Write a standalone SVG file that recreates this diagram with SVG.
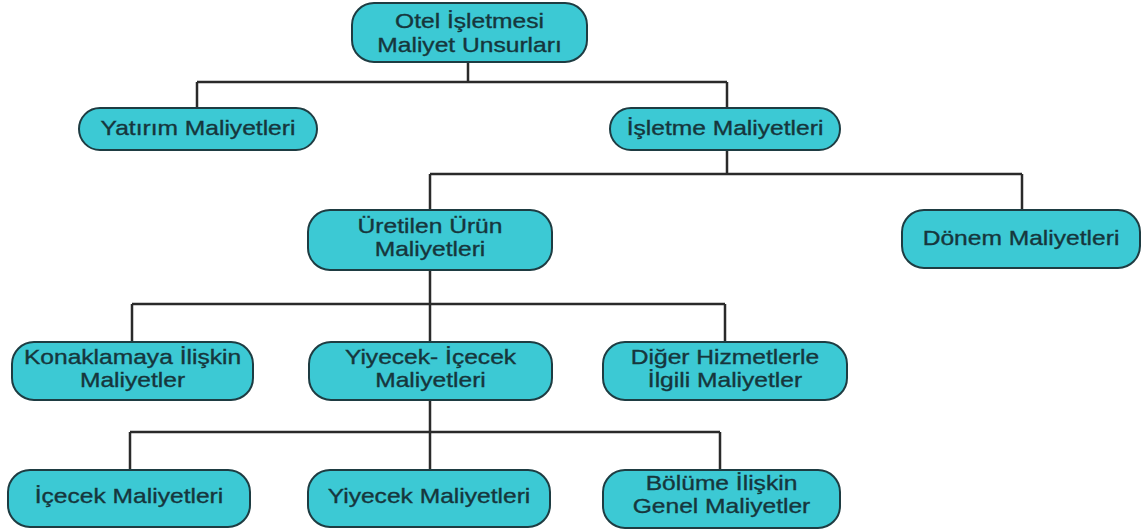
<svg xmlns="http://www.w3.org/2000/svg" width="1147" height="531" viewBox="0 0 1147 531">
  <style>
    .box { fill: #3cc9d4; stroke: #1e3c42; stroke-width: 2; }
    .lbl { font-family: "Liberation Sans", Arial, sans-serif; font-size: 20.5px; fill: #16363c; stroke: #16363c; stroke-width: 0.35; text-anchor: middle; }
    .wire { fill: none; stroke: #2a2a2a; stroke-width: 2.5; }
  </style>
  <rect width="1147" height="531" fill="#ffffff"/>

  <!-- connectors -->
  <g id="connectors" class="wire">
    <path d="M468 62 V82 M197 82 H727 M197 82 V108 M727 82 V108"/>
    <path d="M727 150 V174 M430 174 H1022 M430 174 V210 M1022 174 V210"/>
    <path d="M430 270 V304 M132 304 H725 M132 304 V342 M430 304 V342 M725 304 V342"/>
    <path d="M430 400 V432 M130 432 H720 M130 432 V470 M430 432 V470 M720 432 V470"/>
  </g>

  <!-- labels are set slightly wide: translate to the anchor, then stretch horizontally -->
  <g id="root">
    <rect class="box" x="352" y="3" width="235" height="59" rx="22"/>
    <text class="lbl" transform="translate(469.5 28) scale(1.2 1)">Otel İşletmesi</text>
    <text class="lbl" transform="translate(469.5 52) scale(1.2 1)">Maliyet Unsurları</text>
  </g>

  <g id="yatirim">
    <rect class="box" x="79" y="108" width="238" height="42" rx="21"/>
    <text class="lbl" transform="translate(198 135) scale(1.2 1)">Yatırım Maliyetleri</text>
  </g>

  <g id="isletme">
    <rect class="box" x="610" y="108" width="230" height="42" rx="21"/>
    <text class="lbl" transform="translate(725 135) scale(1.2 1)">İşletme Maliyetleri</text>
  </g>

  <g id="uretilen">
    <rect class="box" x="308" y="210" width="244" height="60" rx="22"/>
    <text class="lbl" transform="translate(430 233) scale(1.2 1)">Üretilen Ürün</text>
    <text class="lbl" transform="translate(430 256) scale(1.2 1)">Maliyetleri</text>
  </g>

  <g id="donem">
    <rect class="box" x="902" y="210" width="238" height="58" rx="22"/>
    <text class="lbl" transform="translate(1021 245) scale(1.2 1)">Dönem Maliyetleri</text>
  </g>

  <g id="konaklama">
    <rect class="box" x="12" y="342" width="241" height="58" rx="22"/>
    <text class="lbl" transform="translate(132.5 364) scale(1.2 1)">Konaklamaya İlişkin</text>
    <text class="lbl" transform="translate(132.5 387) scale(1.2 1)">Maliyetler</text>
  </g>

  <g id="yiyecek-icecek">
    <rect class="box" x="309" y="342" width="243" height="58" rx="22"/>
    <text class="lbl" transform="translate(430.5 364) scale(1.2 1)">Yiyecek- İçecek</text>
    <text class="lbl" transform="translate(430.5 387) scale(1.2 1)">Maliyetleri</text>
  </g>

  <g id="diger">
    <rect class="box" x="603" y="342" width="244" height="58" rx="22"/>
    <text class="lbl" transform="translate(725 364) scale(1.2 1)">Diğer Hizmetlerle</text>
    <text class="lbl" transform="translate(725 387) scale(1.2 1)">İlgili Maliyetler</text>
  </g>

  <g id="icecek">
    <rect class="box" x="8" y="470" width="242" height="57" rx="22"/>
    <text class="lbl" transform="translate(129 503) scale(1.2 1)">İçecek Maliyetleri</text>
  </g>

  <g id="yiyecek">
    <rect class="box" x="308" y="470" width="242" height="57" rx="22"/>
    <text class="lbl" transform="translate(429 503) scale(1.2 1)">Yiyecek Maliyetleri</text>
  </g>

  <g id="bolume">
    <rect class="box" x="603" y="470" width="237" height="58" rx="22"/>
    <text class="lbl" transform="translate(721.5 490) scale(1.2 1)">Bölüme İlişkin</text>
    <text class="lbl" transform="translate(721.5 513) scale(1.2 1)">Genel Maliyetler</text>
  </g>
</svg>
